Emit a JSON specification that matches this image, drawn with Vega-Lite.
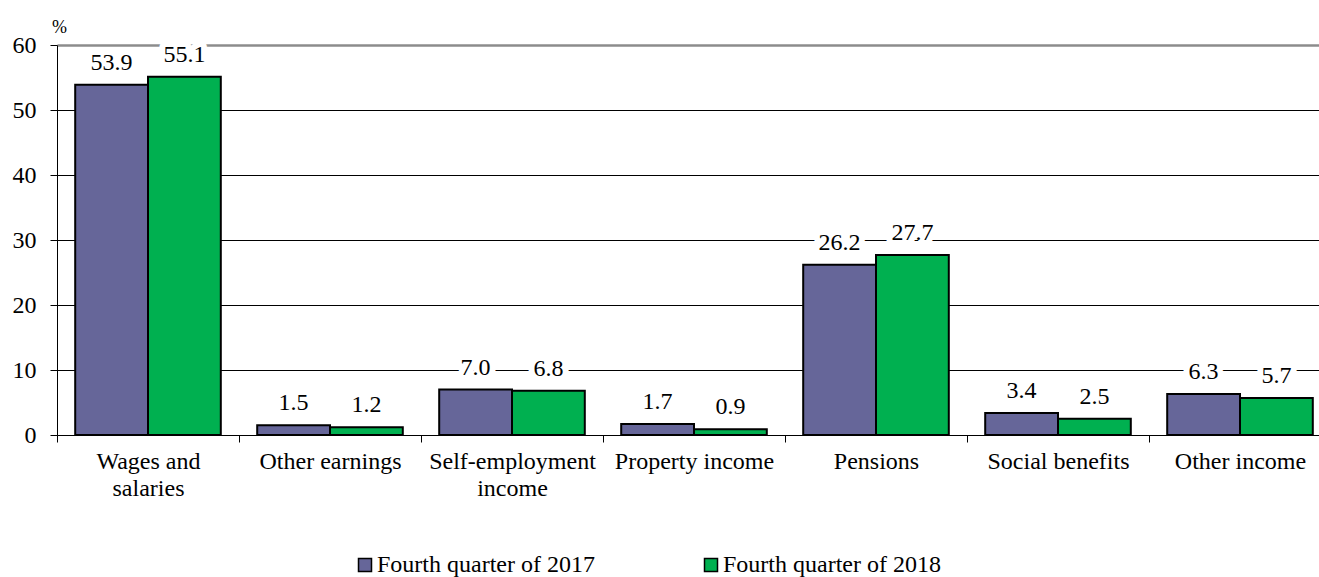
{
  "$schema": "https://vega.github.io/schema/vega-lite/v6.json",
  "width": 1262,
  "height": 390,
  "autosize": {"type": "none"},
  "padding": {"left": 57, "top": 45, "right": 0, "bottom": 142},
  "config": {
    "view": {"stroke": null},
    "font": "Liberation Serif"
  },
  "data": {
    "values": [
      {"cat": "Wages and|salaries", "series": "Fourth quarter of 2017", "value": 53.9},
      {"cat": "Wages and|salaries", "series": "Fourth quarter of 2018", "value": 55.1},
      {"cat": "Other earnings", "series": "Fourth quarter of 2017", "value": 1.5},
      {"cat": "Other earnings", "series": "Fourth quarter of 2018", "value": 1.2},
      {"cat": "Self-employment|income", "series": "Fourth quarter of 2017", "value": 7.0},
      {"cat": "Self-employment|income", "series": "Fourth quarter of 2018", "value": 6.8},
      {"cat": "Property income", "series": "Fourth quarter of 2017", "value": 1.7},
      {"cat": "Property income", "series": "Fourth quarter of 2018", "value": 0.9},
      {"cat": "Pensions", "series": "Fourth quarter of 2017", "value": 26.2},
      {"cat": "Pensions", "series": "Fourth quarter of 2018", "value": 27.7},
      {"cat": "Social benefits", "series": "Fourth quarter of 2017", "value": 3.4},
      {"cat": "Social benefits", "series": "Fourth quarter of 2018", "value": 2.5},
      {"cat": "Other income", "series": "Fourth quarter of 2017", "value": 6.3},
      {"cat": "Other income", "series": "Fourth quarter of 2018", "value": 5.7}
    ]
  },
  "encoding": {
    "x": {
      "field": "cat",
      "type": "nominal",
      "sort": null,
      "scale": {"range": [0, 1274], "paddingInner": 0.2, "paddingOuter": 0.1},
      "axis": {
        "title": null,
        "labelAngle": 0,
        "labelExpr": "split(datum.label, '|')",
        "labelFont": "Liberation Serif",
        "labelFontSize": 24,
        "labelColor": "black",
        "labelLineHeight": 27,
        "labelBaseline": "top",
        "labelPadding": 7,
        "labelLimit": 0,
        "tickOffset": -91,
        "labelOffset": 91,
        "tickSize": 7,
        "tickColor": "black",
        "tickWidth": 1,
        "domainColor": "black",
        "domainWidth": 1,
        "grid": false
      }
    },
    "xOffset": {"field": "series", "type": "nominal", "sort": null, "scale": {"paddingInner": 0, "paddingOuter": 0}},
    "y": {
      "field": "value",
      "type": "quantitative",
      "scale": {"domain": [0, 60]},
      "axis": {
        "values": [0, 10, 20, 30, 40, 50, 60],
        "labelFont": "Liberation Serif",
        "labelFontSize": 24,
        "labelColor": "black",
        "labelPadding": 14,
        "tickSize": 7,
        "tickColor": "black",
        "domainColor": "black",
        "domainWidth": 1,
        "grid": true,
        "gridColor": {"condition": {"test": "datum.value === 60", "value": "#8c8c8c"}, "value": "black"},
        "gridWidth": {"condition": {"test": "datum.value === 60", "value": 2.5}, "value": 1},
        "title": "%",
        "titleFont": "Liberation Serif",
        "titleAngle": 0,
        "titleFontSize": 18,
        "titleFontWeight": "normal",
        "titleColor": "black",
        "titleAlign": "center",
        "titleBaseline": "alphabetic",
        "titleX": 2,
        "titleY": -13
      }
    }
  },
  "layer": [
    {
      "mark": {"type": "bar", "stroke": "black", "strokeWidth": 2},
      "encoding": {
        "color": {
          "field": "series",
          "type": "nominal",
          "scale": {"domain": ["Fourth quarter of 2017", "Fourth quarter of 2018"], "range": ["#666699", "#00B050"]},
          "legend": {
            "title": null,
            "orient": "none",
            "direction": "horizontal",
            "legendX": 296,
            "legendY": 508,
            "columnPadding": 104,
            "symbolType": "square",
            "symbolSize": 169,
            "symbolStrokeColor": "black",
            "symbolStrokeWidth": 1.5,
            "labelFont": "Liberation Serif",
            "labelFontSize": 24,
            "labelColor": "black",
            "labelOffset": 0,
            "labelLimit": 0
          }
        }
      }
    },
    {
      "mark": {"type": "text", "font": "Liberation Serif", "dy": -15, "baseline": "alphabetic", "fontSize": 24, "stroke": "white", "strokeWidth": 12, "strokeJoin": "round", "fill": "white"},
      "encoding": {"text": {"field": "value", "type": "quantitative", "format": ".1f"}}
    },
    {
      "mark": {"type": "text", "font": "Liberation Serif", "dy": -15, "baseline": "alphabetic", "fontSize": 24, "fill": "black"},
      "encoding": {"text": {"field": "value", "type": "quantitative", "format": ".1f"}}
    }
  ]
}
